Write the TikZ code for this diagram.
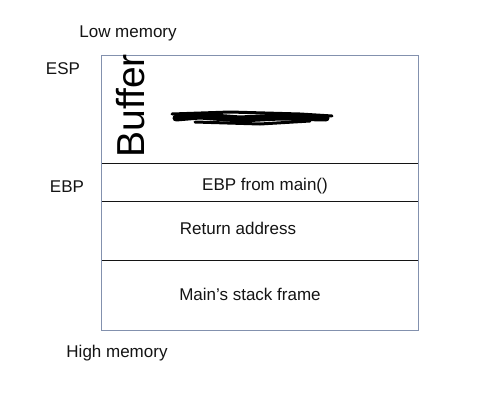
\documentclass[tikz,border=0pt]{standalone}
\usepackage{fontspec}
\setmainfont{Liberation Sans}
\usepackage{tikz}
\definecolor{edge}{HTML}{8391AE}
\definecolor{ink}{HTML}{141414}

\begin{document}
\begin{tikzpicture}[x=1pt,y=-1pt,
  row/.style = {minimum width=317pt, inner sep=0pt, anchor=north west},
  lbl/.style = {font=\fontsize{17}{19}\selectfont, text=ink, inner sep=0pt}]
\useasboundingbox[fill=white] (0,0) rectangle (499,402);
% stack rows, top to bottom
\node[row, minimum height=108pt] (buf) at (101,55) {};
\node[row, minimum height=38pt] (ebp) at (101,163) {};
\node[row, minimum height=59pt] (ret) at (101,201) {};
\node[row, minimum height=70pt] (frame) at (101,260) {};
\draw[ink, line width=0.8pt] (buf.south west) -- (buf.south east);
\draw[ink, line width=0.8pt] (ebp.south west) -- (ebp.south east);
\draw[ink, line width=0.8pt] (ret.south west) -- (ret.south east);
\draw[edge, line width=0.9pt] (buf.north west) rectangle (frame.south east);
% labels
\node[lbl] (low) at (128,33) {Low memory};
\node[lbl] (esp) at (63,69) {ESP};
\node[lbl] (ebpl) at (67,187) {EBP};
\node[lbl] (high) at (117,353) {High memory};
\node[lbl] (ebptxt) at (265,186) {EBP from main()};
\node[lbl] (rettxt) at (238,228) {Return address};
\node[lbl] (frametxt) at (250,294) {Main’s stack frame};
% handwritten part
\node[font=\fontsize{39}{42}\selectfont, rotate=90, inner sep=0pt] (buffer) at (131,106) {Buffer};
\draw[black, line width=7pt, line cap=round] (176,118) -- (200,116) -- (240,119) -- (280,117) -- (326,118);
\draw[black, line width=3pt, line cap=round] (172,114) -- (230,112) -- (300,114) -- (332,116);
\draw[black, line width=3pt, line cap=round] (195,122) -- (260,124) -- (310,121);
\end{tikzpicture}
\end{document}
